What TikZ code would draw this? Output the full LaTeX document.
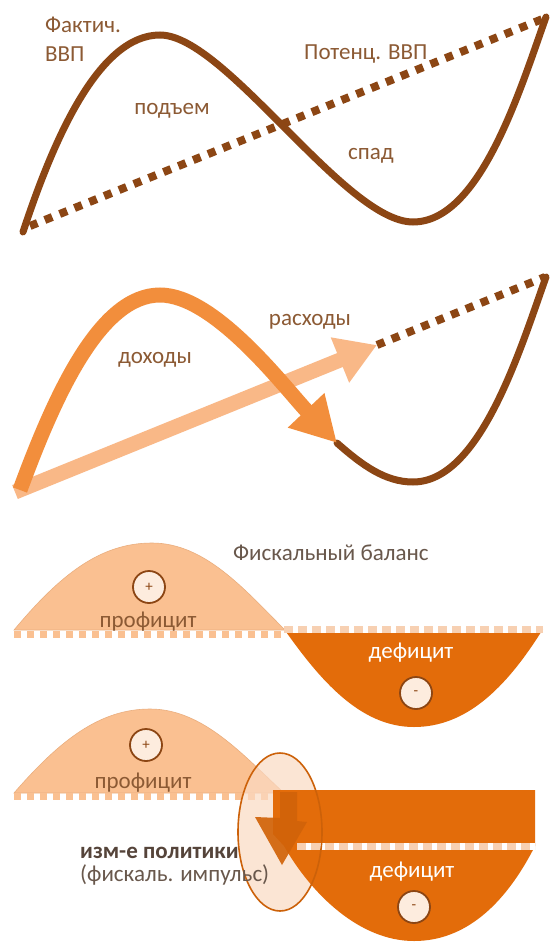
\documentclass[tikz,border=0pt]{standalone}
\usepackage{fontspec}
\setmainfont{Carlito}
\usetikzlibrary{arrows.meta}
\definecolor{brn}{RGB}{140,70,20}
\definecolor{org}{RGB}{242,142,60}
\definecolor{lorg}{RGB}{249,184,135}
\definecolor{hump}{RGB}{250,192,145}
\definecolor{dorg}{RGB}{227,108,10}
\definecolor{peach}{RGB}{247,208,178}
\definecolor{txtb}{RGB}{140,90,52}
\definecolor{txtg}{RGB}{105,88,76}
\definecolor{txtd}{RGB}{85,68,58}
\definecolor{cfill}{RGB}{253,236,222}
\definecolor{ellf}{RGB}{250,218,195}
\begin{document}
\begin{tikzpicture}[x=1pt,y=-1pt,
 lbl/.style={font=\fontsize{23}{25}\selectfont, text=txtb, inner sep=0pt},
 dots/.style={brn, line width=8pt, dash pattern=on 8pt off 8pt},
 curve/.style={brn, line width=7pt, line cap=round},
 sign/.style={circle, draw=brn, line width=1.8pt, fill=cfill, minimum size=32pt, inner sep=0pt, font=\fontsize{15}{15}\selectfont, text=brn},
 humpfill/.style={fill=hump, draw=hump!85!brn, line width=0.6pt},
 humpbase/.style={hump, line width=7pt, dash pattern=on 7pt off 6pt},
 troughtop/.style={peach, line width=7pt, dash pattern=on 9pt off 5pt},
]
\fill[white] (0,0) rectangle (557,944);
\useasboundingbox (0,0) rectangle (557,944);

% ---------- panel 1
\draw[dots] (30,226) -- (545,18);
\draw[curve] (23,232) .. controls (55,135) and (100,35) .. (160,35) .. controls (225,35) and (345,222) .. (413,222) .. controls (480,222) and (520,90) .. (546,17);
\node[lbl, anchor=base west] (fakt1) at (45,33) {Фактич.};
\node[lbl, anchor=base west] (fakt2) at (45,62) {ВВП};
\node[lbl, anchor=base west] (poten) at (304,60) {Потенц. ВВП};
\node[lbl, anchor=base] (podem) at (172,115) {подъем};
\node[lbl, anchor=base] (spad) at (371,160) {спад};

% ---------- panel 2
\draw[dots] (377,345) -- (545,277);
\draw[curve] (337,443) .. controls (362,465) and (385,482) .. (413,482) .. controls (480,482) and (520,350) .. (546,277);
\draw[lorg, line width=15pt, -{Triangle[width=46pt,length=40pt]}] (15,492) -- (377,345);
\draw[org, line width=15pt, -{Triangle[width=47pt,length=45pt]}] (20,490) .. controls (55,395) and (100,295) .. (160,295) .. controls (215,295) and (285,388) .. (337,443);
\node[lbl, anchor=base] (dohod) at (155,363) {доходы};
\node[lbl, anchor=base] (rashod) at (310,325) {расходы};

% ---------- panel 3
\draw[humpfill] (14,630) .. controls (60,575) and (100,543) .. (152,543) .. controls (205,543) and (245,590) .. (285,630) -- cycle;
\draw[humpbase] (14,634) -- (284,634);
\fill[dorg] (284,629) -- (543,629) .. controls (505,690) and (465,727) .. (414,727) .. controls (360,727) and (320,680) .. (284,629) -- cycle;
\draw[white, line width=7pt] (284,629) -- (543,629);
\draw[troughtop] (284,629) -- (543,629);
\node[sign] (plus1) at (149,587) {+};
\node[sign] (minus1) at (416,693) {-};
\node[lbl, anchor=base] (prof1) at (148,627) {профицит};
\node[lbl, text=white, anchor=base] (def1) at (411,658) {дефицит};
\node[lbl, text=txtg, anchor=base west] (fisk) at (233,560) {Фискальный баланс};

% ---------- panel 4
\draw[humpfill] (14,793) .. controls (60,740) and (100,709) .. (150,709) .. controls (203,709) and (243,755) .. (284,793) -- cycle;
\draw[humpbase] (14,796) -- (273,796);
\fill[ellf, opacity=0.7] (280,832) ellipse [x radius=42, y radius=79];
\fill[dorg] (273,790) -- (535,790) -- (535,846) .. controls (505,905) and (465,941) .. (414,941) .. controls (360,941) and (312,895) .. (284,846) -- (273,834) -- cycle;
\draw[white, line width=7pt] (297,846) -- (535,846);
\draw[troughtop] (297,846) -- (535,846);
\fill[dorg!92!black, opacity=0.92] (280,792) -- (297,792) -- (297,821) -- (307,822) -- (282,865) -- (255,817) -- (280,818) -- cycle;
\draw[dorg!90!black, line width=1.6pt] (280,832) ellipse [x radius=42, y radius=79];
\node[sign] (plus2) at (146,745) {+};
\node[sign] (minus2) at (414,907) {-};
\node[lbl, anchor=base] (prof2) at (143,788) {профицит};
\node[lbl, text=white, anchor=base] (def2) at (412,877) {дефицит};
\node[lbl, text=txtd, anchor=base west, font=\bfseries\fontsize{23}{25}\selectfont] (izm) at (80,858) {изм-е политики};
\node[lbl, text=txtg, anchor=base west] (impuls) at (80,881) {(фискаль. импульс)};
\end{tikzpicture}
\end{document}
